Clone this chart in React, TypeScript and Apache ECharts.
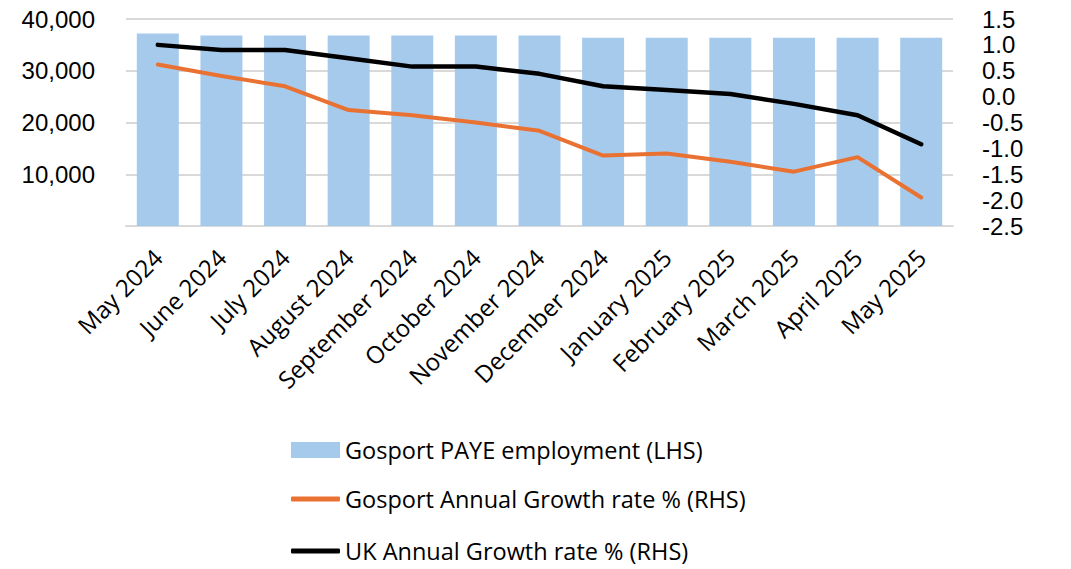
import React, { useEffect, useRef } from "react";
import * as echarts from "echarts";

const categories = [
  "May 2024", "June 2024", "July 2024", "August 2024", "September 2024",
  "October 2024", "November 2024", "December 2024", "January 2025",
  "February 2025", "March 2025", "April 2025", "May 2025",
];
const payeEmployment = [37200, 36800, 36800, 36800, 36800, 36800, 36800, 36400, 36400, 36400, 36400, 36400, 36400];
const gosportGrowth = [0.62, 0.4, 0.2, -0.26, -0.36, -0.5, -0.66, -1.14, -1.1, -1.26, -1.45, -1.17, -1.95];
const ukGrowth = [1.0, 0.9, 0.9, 0.74, 0.58, 0.58, 0.44, 0.2, 0.13, 0.05, -0.14, -0.36, -0.92];

const S1 = "Gosport PAYE employment (LHS)";
const S2 = "Gosport Annual Growth rate % (RHS)";
const S3 = "UK Annual Growth rate % (RHS)";

const labelFont = "'Open Sans', sans-serif";

export default function App() {
  const ref = useRef<HTMLDivElement>(null);
  useEffect(() => {
    const chart = echarts.init(ref.current!, null, { renderer: "svg" });
    const legendBase = {
      orient: "vertical",
      left: 286,
      itemWidth: 49,
      selectedMode: false,
      itemGap: 0,
      textStyle: { fontFamily: labelFont, fontSize: 23.5, color: "#000" },
    };
    chart.setOption({
      animation: false,
      backgroundColor: "#fff",
      grid: { left: 126, right: 118, top: 19, bottom: 343, containLabel: false },
      legend: [
        { ...legendBase, top: 433, itemHeight: 16, data: [{ name: S1, icon: "rect" }] },
        { ...legendBase, top: 482, itemHeight: 5, data: [{ name: S2, icon: "roundRect" }] },
        { ...legendBase, top: 534, itemHeight: 5, data: [{ name: S3, icon: "roundRect" }] },
      ],
      xAxis: {
        type: "category",
        data: categories,
        axisLine: { lineStyle: { color: "#D9D9D9", width: 2 } },
        axisTick: { show: false },
        axisLabel: {
          interval: 0,
          rotate: 45,
          fontFamily: labelFont,
          fontSize: 24,
          color: "#000",
          margin: 27,
        },
      },
      yAxis: [
        {
          type: "value",
          min: 0,
          max: 40000,
          interval: 10000,
          axisLine: { show: false },
          axisTick: { show: false },
          splitLine: { lineStyle: { color: "#D9D9D9", width: 2 } },
          axisLabel: {
            margin: 31,
            fontFamily: "'Liberation Sans', Arial, sans-serif",
            fontSize: 24,
            color: "#000",
            formatter: (v: number) => (v === 0 ? "" : v.toLocaleString("en-US")),
          },
        },
        {
          type: "value",
          min: -2.5,
          max: 1.5,
          interval: 0.5,
          axisLine: { show: false },
          axisTick: { show: false },
          splitLine: { show: false },
          axisLabel: {
            margin: 29,
            fontFamily: "'Liberation Sans', Arial, sans-serif",
            fontSize: 24,
            color: "#000",
            formatter: (v: number) => v.toFixed(1),
          },
        },
      ],
      series: [
        {
          name: S1,
          type: "bar",
          data: payeEmployment,
          yAxisIndex: 0,
          barWidth: "66%",
          itemStyle: { color: "#A6CAEC" },
        },
        {
          name: S2,
          type: "line",
          data: gosportGrowth,
          yAxisIndex: 1,
          symbol: "none",
          itemStyle: { color: "#E97132" },
          lineStyle: { color: "#E97132", width: 4, cap: "round", join: "round" },
        },
        {
          name: S3,
          type: "line",
          data: ukGrowth,
          yAxisIndex: 1,
          symbol: "none",
          itemStyle: { color: "#000" },
          lineStyle: { color: "#000", width: 4.5, cap: "round", join: "round" },
        },
      ],
    });
    return () => chart.dispose();
  }, []);
  return (
    <div
      ref={ref}
      style={{ position: "fixed", left: 0, top: 0, width: 1071, height: 569 }}
    />
  );
}
